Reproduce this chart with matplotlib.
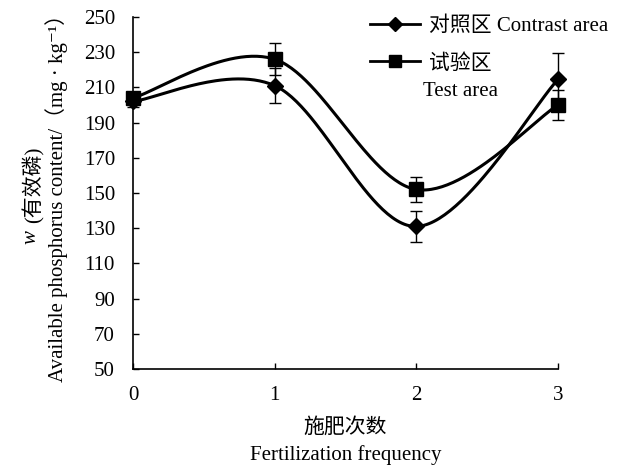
import numpy as np
import matplotlib
matplotlib.use("Agg")
import matplotlib.pyplot as plt
from matplotlib.lines import Line2D

# ---- data ----
freq = [0, 1, 2, 3]
contrast = [202, 211, 131, 214.5]
contrast_err = [3, 10, 9, 15]
test = [204, 226, 152, 200]
test_err = [3, 9, 7, 8.5]
xticks = [0, 1, 2, 3]
yticks = list(range(50, 251, 20))

FONT = ['Liberation Serif', 'Noto Sans CJK SC', 'DejaVu Serif']
plt.rcParams['font.family'] = FONT

W, H = 618, 467
fig = plt.figure(figsize=(W / 100, H / 100), dpi=100)
L, R, T, B = 133, 558, 17, 369
ax = fig.add_axes([L / W, 1 - B / H, (R - L) / W, (B - T) / H])


def smooth(x, y, n=60):
    """Catmull-Rom (Excel-like) smoothing through the points."""
    x = np.asarray(x, float)
    y = np.asarray(y, float)
    px = np.concatenate([[x[0]], x, [x[-1]]])
    py = np.concatenate([[y[0]], y, [y[-1]]])
    xs, ys = [], []
    for i in range(len(x) - 1):
        t = np.linspace(0, 1, n)
        h00 = 2 * t**3 - 3 * t**2 + 1
        h10 = t**3 - 2 * t**2 + t
        h01 = -2 * t**3 + 3 * t**2
        h11 = t**3 - t**2
        mx0 = (px[i + 2] - px[i]) / 2
        mx1 = (px[i + 3] - px[i + 1]) / 2
        my0 = (py[i + 2] - py[i]) / 2
        my1 = (py[i + 3] - py[i + 1]) / 2
        xs.append(h00 * x[i] + h10 * mx0 + h01 * x[i + 1] + h11 * mx1)
        ys.append(h00 * y[i] + h10 * my0 + h01 * y[i + 1] + h11 * my1)
    return np.concatenate(xs), np.concatenate(ys)


for vals, errs, mk, ms in [(contrast, contrast_err, 'D', 8.5), (test, test_err, 's', 10)]:
    sx, sy = smooth(freq, vals)
    ax.plot(sx, sy, color='black', lw=2.2, clip_on=False, zorder=3)
    ax.errorbar(freq, vals, yerr=errs, fmt='none', ecolor='black', elinewidth=1.0,
                capsize=4.5, capthick=1.0, clip_on=False, zorder=4)
    ax.plot(freq, vals, linestyle='none', marker=mk, markersize=ms, color='black',
            clip_on=False, zorder=5)

ax.set_xlim(0, 3)
ax.set_ylim(50, 250)
ax.set_xticks(xticks)
ax.set_yticks(yticks)
ax.tick_params(direction='in', length=4, width=1, labelsize=15)
ax.tick_params(axis='y', pad=13)
ax.tick_params(axis='x', pad=12)
for s in ['top', 'right']:
    ax.spines[s].set_visible(False)
for s in ['left', 'bottom']:
    ax.spines[s].set_linewidth(1.2)

# legend
h1 = Line2D([], [], color='black', lw=2, marker='D', markersize=7)
h2 = Line2D([], [], color='black', lw=2, marker='s', markersize=9)
leg = ax.legend([h1, h2], ['对照区 Contrast area', '试验区'], loc='upper left',
                bbox_to_anchor=((362 - L) / (R - L), 1.025), frameon=False,
                fontsize=15, handlelength=2.4, handletextpad=0.4,
                labelspacing=0.85, borderaxespad=0)
fig.text(423 / W, 1 - 91 / H, 'Test area', fontsize=15, ha='left', va='center')

# x labels
cx = (L + R) / 2 / W
fig.text(cx, 1 - 428 / H, '施肥次数', fontsize=15, ha='center', va='center')
fig.text(cx, 1 - 455 / H, 'Fertilization frequency', fontsize=15, ha='center', va='center')

# y labels
fig.text(31 / W, 1 - 237 / H, 'w', fontsize=15, style='italic', rotation=90,
         ha='center', va='center')
fig.text(33 / W, 1 - 185 / H, '(有效磷)', fontsize=15, rotation=90,
         ha='center', va='center')
fig.text(57 / W, 1 - 193 / H, 'Available phosphorus content/（mg · kg⁻¹）',
         fontsize=15, rotation=90, ha='center', va='center')

fig.savefig('out.png', dpi=100)
